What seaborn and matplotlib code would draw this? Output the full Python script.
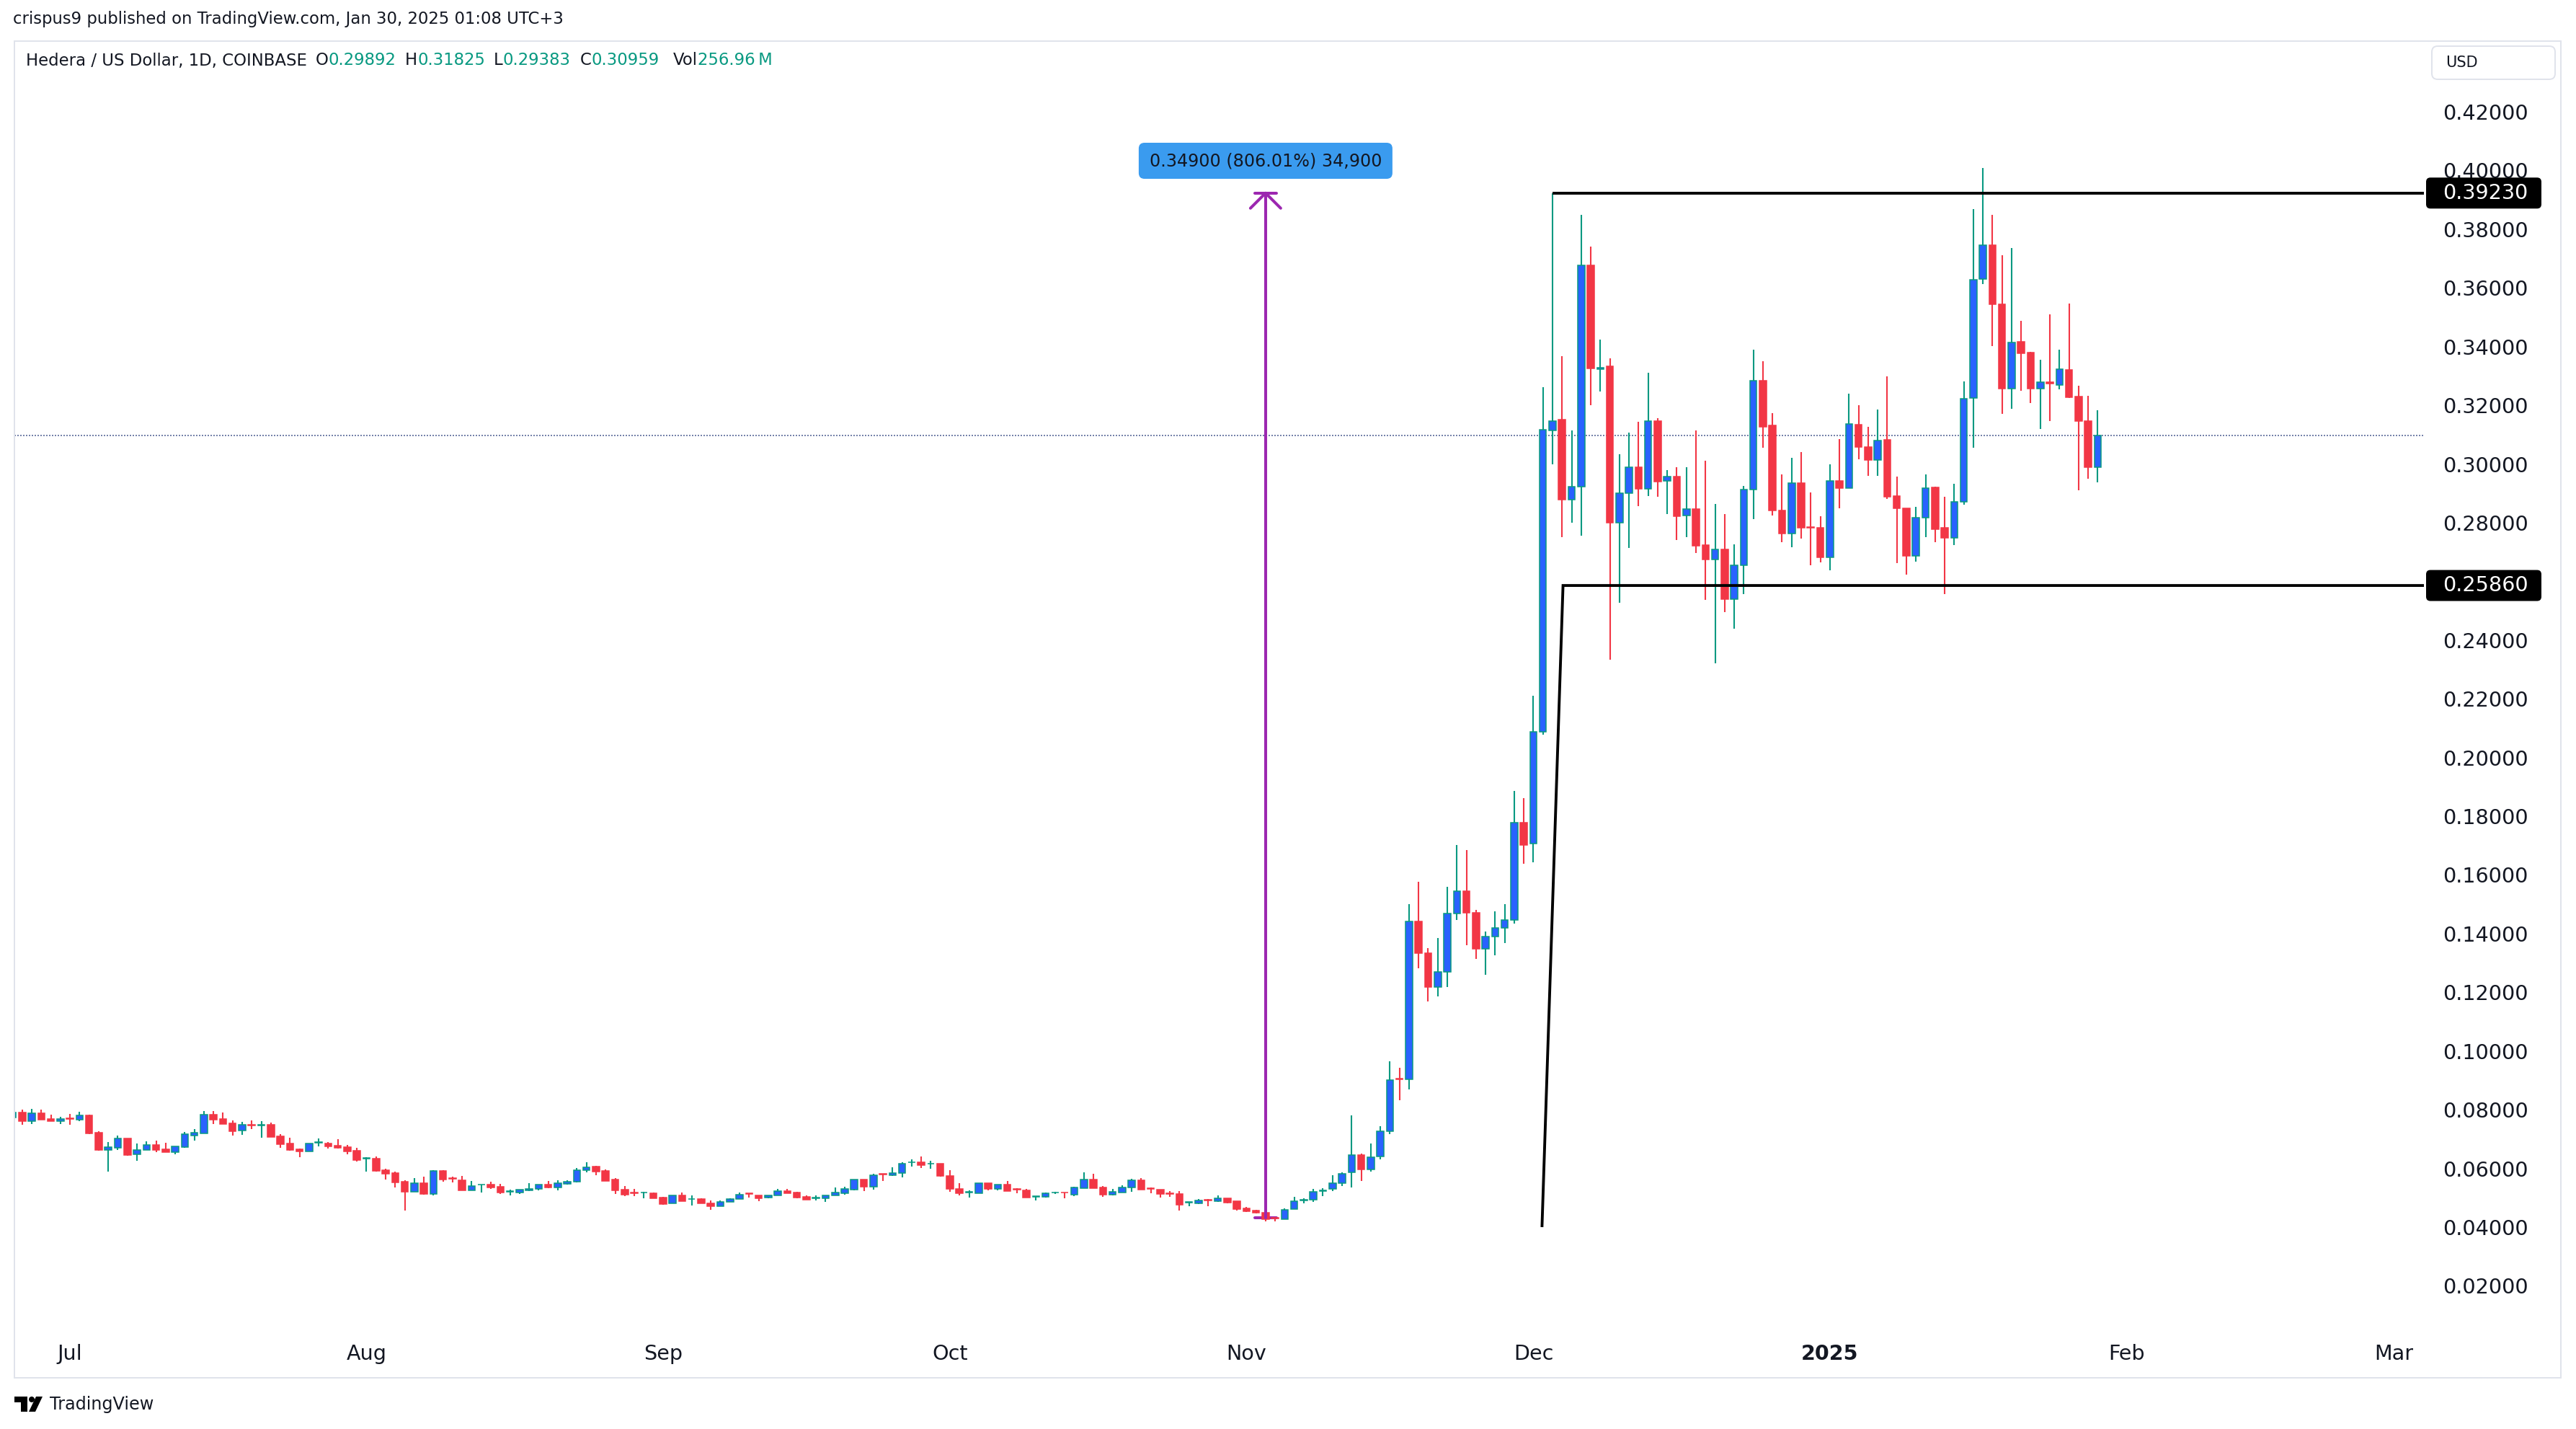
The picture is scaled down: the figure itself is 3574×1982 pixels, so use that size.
import numpy as np
import pandas as pd
import matplotlib
matplotlib.use("Agg")
import matplotlib.pyplot as plt
import matplotlib.transforms as mtransforms
from matplotlib.patches import FancyBboxPatch, Rectangle, Polygon, Circle
import seaborn as sns

# ---------------- data (HBAR/USD daily, Coinbase) ----------------
start_date = "2024-06-25"
end_date = "2025-01-29"

opens = [0.0773, 0.0791, 0.0762, 0.0788, 0.0768, 0.0760, 0.0771, 0.0765, 0.0780, 0.0721,
         0.0664, 0.0671, 0.0702, 0.0647, 0.0664, 0.0680, 0.0665, 0.0656, 0.0672, 0.0713,
         0.0720, 0.0783, 0.0768, 0.0753, 0.0728, 0.0749, 0.0747, 0.0748, 0.0709, 0.0685,
         0.0665, 0.0658, 0.0687, 0.0686, 0.0677, 0.0672, 0.0660, 0.0633, 0.0633, 0.0593,
         0.0584, 0.0554, 0.0521, 0.0551, 0.0513, 0.0591, 0.0566, 0.0560, 0.0526, 0.0544,
         0.0545, 0.0537, 0.0521, 0.0519, 0.0525, 0.0531, 0.0544, 0.0536, 0.0548, 0.0554,
         0.0594, 0.0606, 0.0591, 0.0562, 0.0527, 0.0518, 0.0517, 0.0515, 0.0500, 0.0480,
         0.0508, 0.0495, 0.0495, 0.0482, 0.0472, 0.0486, 0.0495, 0.0515, 0.0509, 0.0501,
         0.0507, 0.0524, 0.0517, 0.0503, 0.0499, 0.0499, 0.0507, 0.0516, 0.0528, 0.0562,
         0.0538, 0.0581, 0.0576, 0.0585, 0.0620, 0.0620, 0.0615, 0.0616, 0.0574, 0.0529,
         0.0519, 0.0516, 0.0549, 0.0531, 0.0545, 0.0529, 0.0525, 0.0504, 0.0504, 0.0517,
         0.0519, 0.0511, 0.0533, 0.0562, 0.0534, 0.0511, 0.0519, 0.0534, 0.0559, 0.0532,
         0.0527, 0.0515, 0.0513, 0.0483, 0.0480, 0.0494, 0.0489, 0.0498, 0.0488, 0.0463,
         0.0456, 0.0450, 0.0431, 0.0427, 0.0461, 0.0492, 0.0494, 0.0524, 0.0529, 0.0550,
         0.0587, 0.0646, 0.0596, 0.0640, 0.0727, 0.0906, 0.0904, 0.1442, 0.1333, 0.1219,
         0.1269, 0.1469, 0.1545, 0.1472, 0.1349, 0.1391, 0.1419, 0.1447, 0.1779, 0.1706,
         0.2087, 0.3114, 0.3150, 0.2879, 0.2922, 0.3678, 0.3324, 0.3332, 0.2801, 0.2901,
         0.2990, 0.2915, 0.3146, 0.2943, 0.2958, 0.2825, 0.2847, 0.2723, 0.2674, 0.2708,
         0.2539, 0.2654, 0.2912, 0.3285, 0.3132, 0.2842, 0.2762, 0.2936, 0.2786, 0.2782,
         0.2683, 0.2942, 0.2918, 0.3134, 0.3058, 0.3013, 0.3083, 0.2891, 0.2850, 0.2686,
         0.2817, 0.2920, 0.2782, 0.2749, 0.2871, 0.3224, 0.3629, 0.3746, 0.3544, 0.3258,
         0.3416, 0.3379, 0.3258, 0.3279, 0.3269, 0.3321, 0.3229, 0.3146, 0.29892]

highs = [0.0795, 0.0800, 0.0802, 0.0800, 0.0783, 0.0775, 0.0785, 0.0793, 0.0782, 0.0726,
         0.0689, 0.0712, 0.0702, 0.0684, 0.0692, 0.0694, 0.0687, 0.0676, 0.0724, 0.0733,
         0.0795, 0.0795, 0.0790, 0.0763, 0.0758, 0.0763, 0.0760, 0.0756, 0.0716, 0.0704,
         0.0668, 0.0686, 0.0703, 0.0691, 0.0699, 0.0681, 0.0669, 0.0639, 0.0640, 0.0599,
         0.0589, 0.0560, 0.0567, 0.0572, 0.0594, 0.0594, 0.0572, 0.0574, 0.0557, 0.0546,
         0.0554, 0.0547, 0.0527, 0.0527, 0.0551, 0.0544, 0.0557, 0.0559, 0.0559, 0.0601,
         0.0621, 0.0608, 0.0596, 0.0568, 0.0540, 0.0531, 0.0520, 0.0518, 0.0503, 0.0509,
         0.0517, 0.0508, 0.0498, 0.0490, 0.0490, 0.0499, 0.0517, 0.0515, 0.0509, 0.0509,
         0.0530, 0.0529, 0.0520, 0.0507, 0.0508, 0.0507, 0.0536, 0.0537, 0.0562, 0.0562,
         0.0581, 0.0581, 0.0605, 0.0622, 0.0630, 0.0640, 0.0626, 0.0617, 0.0593, 0.0549,
         0.0525, 0.0549, 0.0551, 0.0544, 0.0556, 0.0533, 0.0529, 0.0506, 0.0519, 0.0520,
         0.0519, 0.0537, 0.0586, 0.0581, 0.0541, 0.0529, 0.0542, 0.0564, 0.0566, 0.0536,
         0.0527, 0.0522, 0.0522, 0.0485, 0.0496, 0.0495, 0.0507, 0.0498, 0.0488, 0.0470,
         0.0460, 0.0450, 0.0436, 0.0463, 0.0502, 0.0498, 0.0530, 0.0532, 0.0577, 0.0587,
         0.0780, 0.0651, 0.0686, 0.0745, 0.0966, 0.0944, 0.1501, 0.1576, 0.1350, 0.1384,
         0.1559, 0.1701, 0.1684, 0.1482, 0.1406, 0.1476, 0.1500, 0.1886, 0.1862, 0.2211,
         0.3262, 0.3923, 0.3367, 0.3114, 0.3849, 0.3741, 0.3423, 0.3359, 0.3034, 0.3107,
         0.3145, 0.3311, 0.3156, 0.2979, 0.2989, 0.2989, 0.3114, 0.3011, 0.2864, 0.2829,
         0.2727, 0.2924, 0.3390, 0.3349, 0.3173, 0.2964, 0.3020, 0.3040, 0.2903, 0.2821,
         0.2999, 0.3085, 0.3240, 0.3200, 0.3126, 0.3185, 0.3299, 0.2958, 0.2850, 0.2854,
         0.2964, 0.2923, 0.2889, 0.2932, 0.3281, 0.3869, 0.4008, 0.3849, 0.3710, 0.3737,
         0.3487, 0.3382, 0.3355, 0.3510, 0.3389, 0.3546, 0.3267, 0.3231, 0.31825]

lows = [0.0770, 0.0748, 0.0752, 0.0766, 0.0760, 0.0752, 0.0748, 0.0762, 0.0717, 0.0661,
        0.0590, 0.0662, 0.0644, 0.0626, 0.0662, 0.0656, 0.0656, 0.0649, 0.0671, 0.0695,
        0.0720, 0.0752, 0.0752, 0.0712, 0.0714, 0.0735, 0.0705, 0.0708, 0.0671, 0.0661,
        0.0639, 0.0658, 0.0675, 0.0668, 0.0668, 0.0649, 0.0624, 0.0590, 0.0590, 0.0563,
        0.0536, 0.0456, 0.0521, 0.0511, 0.0508, 0.0555, 0.0552, 0.0526, 0.0526, 0.0518,
        0.0531, 0.0513, 0.0508, 0.0513, 0.0523, 0.0526, 0.0533, 0.0526, 0.0544, 0.0552,
        0.0587, 0.0576, 0.0558, 0.0513, 0.0505, 0.0505, 0.0499, 0.0499, 0.0477, 0.0480,
        0.0489, 0.0474, 0.0480, 0.0459, 0.0472, 0.0485, 0.0495, 0.0501, 0.0488, 0.0499,
        0.0507, 0.0515, 0.0499, 0.0494, 0.0490, 0.0486, 0.0507, 0.0511, 0.0526, 0.0523,
        0.0528, 0.0558, 0.0575, 0.0570, 0.0607, 0.0601, 0.0599, 0.0572, 0.0521, 0.0508,
        0.0501, 0.0516, 0.0526, 0.0526, 0.0523, 0.0516, 0.0501, 0.0491, 0.0501, 0.0512,
        0.0499, 0.0506, 0.0533, 0.0533, 0.0503, 0.0508, 0.0519, 0.0521, 0.0528, 0.0516,
        0.0501, 0.0503, 0.0456, 0.0472, 0.0478, 0.0472, 0.0486, 0.0481, 0.0457, 0.0452,
        0.0447, 0.0419, 0.0420, 0.0427, 0.0461, 0.0480, 0.0487, 0.0505, 0.0524, 0.0540,
        0.0534, 0.0558, 0.0589, 0.0630, 0.0718, 0.0832, 0.0869, 0.1283, 0.1168, 0.1185,
        0.1219, 0.1447, 0.1361, 0.1314, 0.1260, 0.1326, 0.1369, 0.1435, 0.1639, 0.1643,
        0.2077, 0.2999, 0.2752, 0.2801, 0.2756, 0.3200, 0.3246, 0.2333, 0.2527, 0.2713,
        0.2856, 0.2891, 0.2888, 0.2829, 0.2742, 0.2752, 0.2697, 0.2536, 0.2321, 0.2496,
        0.2439, 0.2556, 0.2811, 0.3056, 0.2824, 0.2733, 0.2717, 0.2747, 0.2654, 0.2666,
        0.2639, 0.2848, 0.2918, 0.3017, 0.2959, 0.2959, 0.2882, 0.2662, 0.2624, 0.2668,
        0.2752, 0.2733, 0.2556, 0.2724, 0.2862, 0.3056, 0.3614, 0.3402, 0.3172, 0.3188,
        0.3249, 0.3208, 0.3120, 0.3147, 0.3255, 0.3226, 0.2911, 0.2950, 0.29383]

closes = [0.0791, 0.0762, 0.0788, 0.0766, 0.0760, 0.0768, 0.0769, 0.0780, 0.0719, 0.0662,
          0.0672, 0.0702, 0.0645, 0.0664, 0.0680, 0.0662, 0.0656, 0.0675, 0.0716, 0.0721,
          0.0783, 0.0766, 0.0752, 0.0727, 0.0748, 0.0747, 0.0749, 0.0708, 0.0683, 0.0662,
          0.0659, 0.0685, 0.0689, 0.0675, 0.0671, 0.0658, 0.0629, 0.0635, 0.0591, 0.0582,
          0.0552, 0.0521, 0.0551, 0.0513, 0.0591, 0.0563, 0.0564, 0.0526, 0.0539, 0.0546,
          0.0536, 0.0517, 0.0523, 0.0527, 0.0531, 0.0544, 0.0536, 0.0549, 0.0554, 0.0595,
          0.0605, 0.0590, 0.0558, 0.0526, 0.0511, 0.0516, 0.0519, 0.0499, 0.0478, 0.0509,
          0.0489, 0.0497, 0.0481, 0.0472, 0.0486, 0.0495, 0.0511, 0.0513, 0.0499, 0.0507,
          0.0523, 0.0515, 0.0500, 0.0494, 0.0501, 0.0507, 0.0517, 0.0529, 0.0562, 0.0538,
          0.0578, 0.0579, 0.0585, 0.0617, 0.0622, 0.0612, 0.0617, 0.0574, 0.0529, 0.0516,
          0.0521, 0.0549, 0.0531, 0.0544, 0.0523, 0.0527, 0.0501, 0.0506, 0.0515, 0.0519,
          0.0517, 0.0535, 0.0562, 0.0533, 0.0511, 0.0521, 0.0534, 0.0559, 0.0528, 0.0530,
          0.0513, 0.0513, 0.0477, 0.0485, 0.0490, 0.0492, 0.0499, 0.0484, 0.0462, 0.0455,
          0.0450, 0.0427, 0.0429, 0.0460, 0.0489, 0.0494, 0.0521, 0.0526, 0.0549, 0.0583,
          0.0646, 0.0596, 0.0639, 0.0726, 0.0901, 0.0903, 0.1442, 0.1333, 0.1217, 0.1269,
          0.1469, 0.1545, 0.1472, 0.1349, 0.1391, 0.1419, 0.1447, 0.1779, 0.1703, 0.2087,
          0.3116, 0.3146, 0.2879, 0.2922, 0.3678, 0.3325, 0.3327, 0.2801, 0.2901, 0.2990,
          0.2915, 0.3146, 0.2941, 0.2958, 0.2823, 0.2847, 0.2721, 0.2674, 0.2708, 0.2539,
          0.2654, 0.2912, 0.3285, 0.3126, 0.2842, 0.2762, 0.2936, 0.2782, 0.2782, 0.2683,
          0.2942, 0.2918, 0.3136, 0.3057, 0.3013, 0.3081, 0.2889, 0.2848, 0.2686, 0.2817,
          0.2919, 0.2779, 0.2749, 0.2871, 0.3222, 0.3628, 0.3746, 0.3543, 0.3258, 0.3415,
          0.3376, 0.3258, 0.3280, 0.3275, 0.3323, 0.3228, 0.3146, 0.2988, 0.30959]

month_ticks = ["2024-07-01", "2024-08-01", "2024-09-01", "2024-10-01", "2024-11-01",
               "2024-12-01", "2025-01-01", "2025-02-01", "2025-03-01"]
month_labels = ["Jul", "Aug", "Sep", "Oct", "Nov", "Dec", "2025", "Feb", "Mar"]
price_ticks = [round(0.02 * i, 2) for i in range(1, 22)]

resistance = 0.39230
support = 0.25860
measure_start = 0.04330
measure_text = "0.34900 (806.01%) 34,900"
header_name = "Hedera / US Dollar, 1D, COINBASE"
header_fields = [("O", "0.29892"), ("H", "0.31825"), ("L", "0.29383"),
                 ("C", "0.30959"), ("Vol", "256.96\u2009M")]
title_text = "crispus9 published on TradingView.com, Jan 30, 2025 01:08 UTC+3"

# ---------------- styling ----------------
sns.set_theme(style="white")
plt.rcParams["font.family"] = ["DejaVu Sans"]

GREEN = "#089981"
RED = "#f23645"
BLUE = "#2962ff"
TXT = "#131722"
PURPLE = "#9c27b0"

W, H, DPI = 3574, 1982, 200
fig = plt.figure(figsize=(W / DPI, H / DPI), dpi=DPI, facecolor="white")
ident = mtransforms.IdentityTransform()


def fx(x):
    return x / W


def fy(y):
    return 1 - y / H


ax = fig.add_axes([fx(19.5), fy(1836), (3363 - 19.5) / W, (1836 - 57) / H])
ax.set_facecolor("white")

dates = pd.date_range(start_date, end_date, freq="D")
df = pd.DataFrame({"date": dates, "open": opens, "high": highs, "low": lows, "close": closes})
df["x"] = (df["date"] - df["date"].iloc[0]).dt.days
df["up"] = df["close"] >= df["open"]
df["bottom"] = df[["open", "close"]].min(axis=1)
df["height"] = (df["close"] - df["open"]).abs()

x_left = 0.15
x_right = x_left + (3363 - 19.5) / 13.27
ax.set_xlim(x_left, x_right)
ax.set_ylim(0.04 - (1836 - 1702) / 4071, 0.04 + (1702 - 57) / 4071)

# current price line
ax.axhline(closes[-1], color="#5b6b9a", lw=0.6, ls=(0, (1.2, 1.2)), zorder=1.5)

# candles
wick_colors = np.where(df["up"], GREEN, RED)
ax.vlines(df["x"], df["low"], df["high"], colors=wick_colors, linewidth=0.75, zorder=2)
u = df[df["up"]]
d = df[~df["up"]]
ax.bar(u["x"], u["height"], bottom=u["bottom"], width=0.72, color=BLUE,
       edgecolor=GREEN, linewidth=0.55, zorder=3)
ax.bar(d["x"], d["height"], bottom=d["bottom"], width=0.72, color=RED,
       edgecolor=RED, linewidth=0.55, zorder=3)

# drawn range lines
k_top = 161
ax.plot([k_top, x_right], [resistance, resistance], color="black", lw=1.4,
        solid_capstyle="butt", zorder=6)
ax.plot([159.9, 162.1, x_right], [0.04, support, support], color="black", lw=1.4,
        solid_joinstyle="miter", solid_capstyle="butt", zorder=6)

# measure arrow
k_m = 131
dx_cap = 15 / 13.27
dx_arm = 21 / 13.27
dy_arm = 21 / 4071
ax.plot([k_m, k_m], [measure_start, resistance], color=PURPLE, lw=1.45, zorder=7)
ax.plot([k_m - dx_cap, k_m + dx_cap], [resistance, resistance], color=PURPLE, lw=1.45,
        solid_capstyle="round", zorder=7)
ax.plot([k_m - dx_arm, k_m, k_m + dx_arm], [resistance - dy_arm, resistance, resistance - dy_arm],
        color=PURPLE, lw=1.45, solid_capstyle="round", zorder=7)
ax.plot([k_m - dx_cap, k_m + dx_cap], [measure_start, measure_start], color=PURPLE, lw=1.45,
        solid_capstyle="round", zorder=2.5)

# axes ticks
tick_pos = [(pd.Timestamp(t) - dates[0]).days for t in month_ticks]
ax.set_xticks(tick_pos)
ax.set_xticklabels(month_labels)
for lab in ax.get_xticklabels():
    if lab.get_text() == "2025":
        lab.set_fontweight("bold")
ax.yaxis.tick_right()
ax.set_yticks(price_ticks)
ax.set_yticklabels([f"{v:.5f}" for v in price_ticks])
ax.tick_params(axis="y", length=0, pad=9.4, labelsize=10.3, labelcolor=TXT)
ax.tick_params(axis="x", length=0, pad=10, labelsize=10.3, labelcolor=TXT)
ax.grid(False)
for s in ax.spines.values():
    s.set_visible(False)


def to_px(xd, yd):
    X, Y = ax.transData.transform((xd, yd))
    return X, H - Y


def rbox(x0, y0, x1, y1, fc, ec, lw, r, z):
    p = FancyBboxPatch((x0, H - y1), x1 - x0, y1 - y0,
                       boxstyle=f"round,pad=0,rounding_size={r}",
                       transform=ident, fc=fc, ec=ec, lw=lw, zorder=z)
    fig.add_artist(p)


# outer frame
fig.add_artist(Rectangle((20, H - 1911), 3533, 1854, transform=ident, fill=False,
                         ec="#e0e3eb", lw=0.7, zorder=1))

# price labels of drawn lines
for val in (resistance, support):
    _, yp = to_px(0, val)
    rbox(3366, yp - 21.5, 3526, yp + 21.5, "black", "black", 0, 6, 10)
    fig.text(fx(3389), fy(yp), f"{val:.5f}", color="white", fontsize=10.3,
             va="center", ha="left", zorder=11)

# measure label
xm, _ = to_px(k_m, 0)
rbox(xm - 176, 198, xm + 176, 248, "#3a9bef", "#3a9bef", 0, 8, 10)
fig.text(fx(xm), fy(223), measure_text, color=TXT, fontsize=8.6, ha="center",
         va="center", zorder=11)

# USD box
rbox(3374, 64, 3545, 110, "white", "#e0e3eb", 0.7, 8, 10)
fig.text(fx(3393), fy(87), "USD", color=TXT, fontsize=7.5, ha="left", va="center", zorder=11)

# title & header
fig.text(fx(18), fy(27), title_text, color=TXT, fontsize=8.2, ha="left", va="center")
renderer = fig.canvas.get_renderer()
fig.text(fx(36), fy(84), header_name, color=TXT, fontsize=8.2, ha="left", va="center")
group_x = [438, 562, 685, 805, 934]
for gx, (lab, val) in zip(group_x, header_fields):
    t = fig.text(fx(gx), fy(84), lab, color=TXT, fontsize=8.2, ha="left", va="center")
    bb = t.get_window_extent(renderer)
    fig.text(bb.x1 / W, fy(84), val, color=GREEN, fontsize=8.2, ha="left", va="center")

# TradingView logo + wordmark
fig.add_artist(Polygon([(20, H - 1937), (38, H - 1937), (38, H - 1958), (29, H - 1958),
                        (29, H - 1945), (20, H - 1945)], closed=True, transform=ident,
                       fc="black", ec="none"))
fig.add_artist(Circle((44, H - 1941), 4, transform=ident, fc="black", ec="none"))
fig.add_artist(Polygon([(50, H - 1937), (59, H - 1937), (49, H - 1958), (40, H - 1958)],
                       closed=True, transform=ident, fc="black", ec="none"))
fig.text(fx(69), fy(1948), "TradingView", color=TXT, fontsize=8.6, ha="left", va="center")

fig.savefig("out.png", dpi=DPI, facecolor="white")
